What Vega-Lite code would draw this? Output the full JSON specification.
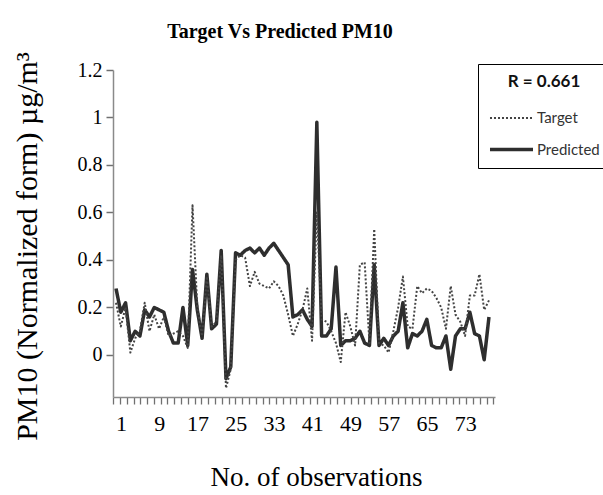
{
  "$schema": "https://vega.github.io/schema/vega-lite/v6.json",
  "width": 382,
  "height": 327,
  "autosize": {"type": "none"},
  "padding": {"left": 113, "top": 70, "right": 108, "bottom": 98},
  "background": "white",
  "title": {"text": "Target Vs Predicted PM10", "font": "Liberation Serif", "fontSize": 20, "fontWeight": "bold", "color": "#000000", "anchor": "middle", "dx": -24, "offset": 10},
  "data": {"values": [
    {"obs":1,"Target":0.22,"Predicted":0.28},{"obs":2,"Target":0.12,"Predicted":0.18},{"obs":3,"Target":0.20,"Predicted":0.22},{"obs":4,"Target":0.01,"Predicted":0.06},{"obs":5,"Target":0.07,"Predicted":0.10},
    {"obs":6,"Target":0.10,"Predicted":0.08},{"obs":7,"Target":0.22,"Predicted":0.19},{"obs":8,"Target":0.10,"Predicted":0.16},{"obs":9,"Target":0.17,"Predicted":0.20},{"obs":10,"Target":0.11,"Predicted":0.19},
    {"obs":11,"Target":0.16,"Predicted":0.18},{"obs":12,"Target":0.08,"Predicted":0.10},{"obs":13,"Target":0.09,"Predicted":0.05},{"obs":14,"Target":0.10,"Predicted":0.05},{"obs":15,"Target":0.08,"Predicted":0.20},
    {"obs":16,"Target":0.03,"Predicted":0.04},{"obs":17,"Target":0.63,"Predicted":0.36},{"obs":18,"Target":0.20,"Predicted":0.19},{"obs":19,"Target":0.08,"Predicted":0.07},{"obs":20,"Target":0.33,"Predicted":0.34},
    {"obs":21,"Target":0.12,"Predicted":0.11},{"obs":22,"Target":0.14,"Predicted":0.13},{"obs":23,"Target":0.42,"Predicted":0.44},{"obs":24,"Target":-0.14,"Predicted":-0.10},{"obs":25,"Target":-0.06,"Predicted":-0.05},
    {"obs":26,"Target":0.40,"Predicted":0.43},{"obs":27,"Target":0.42,"Predicted":0.42},{"obs":28,"Target":0.41,"Predicted":0.44},{"obs":29,"Target":0.29,"Predicted":0.45},{"obs":30,"Target":0.35,"Predicted":0.43},
    {"obs":31,"Target":0.30,"Predicted":0.45},{"obs":32,"Target":0.29,"Predicted":0.42},{"obs":33,"Target":0.28,"Predicted":0.45},{"obs":34,"Target":0.31,"Predicted":0.47},{"obs":35,"Target":0.29,"Predicted":0.44},
    {"obs":36,"Target":0.25,"Predicted":0.41},{"obs":37,"Target":0.17,"Predicted":0.38},{"obs":38,"Target":0.08,"Predicted":0.16},{"obs":39,"Target":0.13,"Predicted":0.17},{"obs":40,"Target":0.19,"Predicted":0.19},
    {"obs":41,"Target":0.28,"Predicted":0.15},{"obs":42,"Target":0.06,"Predicted":0.12},{"obs":43,"Target":0.60,"Predicted":0.98},{"obs":44,"Target":0.15,"Predicted":0.08},{"obs":45,"Target":0.14,"Predicted":0.08},
    {"obs":46,"Target":0.10,"Predicted":0.11},{"obs":47,"Target":0.05,"Predicted":0.37},{"obs":48,"Target":-0.03,"Predicted":0.04},{"obs":49,"Target":0.18,"Predicted":0.06},{"obs":50,"Target":0.12,"Predicted":0.06},
    {"obs":51,"Target":0.04,"Predicted":0.07},{"obs":52,"Target":0.38,"Predicted":0.10},{"obs":53,"Target":0.39,"Predicted":0.05},{"obs":54,"Target":0.05,"Predicted":0.04},{"obs":55,"Target":0.53,"Predicted":0.38},
    {"obs":56,"Target":0.05,"Predicted":0.04},{"obs":57,"Target":0.04,"Predicted":0.07},{"obs":58,"Target":0.01,"Predicted":0.04},{"obs":59,"Target":0.10,"Predicted":0.08},{"obs":60,"Target":0.20,"Predicted":0.10},
    {"obs":61,"Target":0.33,"Predicted":0.22},{"obs":62,"Target":0.12,"Predicted":0.03},{"obs":63,"Target":0.11,"Predicted":0.09},{"obs":64,"Target":0.29,"Predicted":0.08},{"obs":65,"Target":0.26,"Predicted":0.10},
    {"obs":66,"Target":0.28,"Predicted":0.15},{"obs":67,"Target":0.27,"Predicted":0.04},{"obs":68,"Target":0.24,"Predicted":0.03},{"obs":69,"Target":0.20,"Predicted":0.03},{"obs":70,"Target":0.11,"Predicted":0.08},
    {"obs":71,"Target":0.29,"Predicted":-0.06},{"obs":72,"Target":0.17,"Predicted":0.08},{"obs":73,"Target":0.14,"Predicted":0.11},{"obs":74,"Target":0.08,"Predicted":0.11},{"obs":75,"Target":0.25,"Predicted":0.18},
    {"obs":76,"Target":0.25,"Predicted":0.09},{"obs":77,"Target":0.34,"Predicted":0.08},{"obs":78,"Target":0.19,"Predicted":-0.02},{"obs":79,"Target":0.23,"Predicted":0.16}
  ]},
  "transform": [{"fold": ["Predicted", "Target"], "as": ["series", "value"]}],
  "mark": {"type": "line", "strokeJoin": "round"},
  "encoding": {
    "x": {"field": "obs", "type": "quantitative", "scale": {"domain": [0.37, 80.26], "nice": false, "zero": false},
      "axis": {"orient": "bottom",
        "values": [1,9,17,25,33,41,49,57,65,73,0.4,1.82,3.24,4.66,6.08,7.5,8.92,10.34,11.76,13.18,14.6,16.02,17.44,18.86,20.28,21.7,23.12,24.54,25.96,27.38,28.8,30.22,31.64,33.06,34.48,35.9,37.32,38.74,40.16,41.58,43,44.42,45.84,47.26,48.68,50.1,51.52,52.94,54.36,55.78,57.2,58.62,60.04,61.46,62.88,64.3,65.72,67.14,68.56,69.98,71.4,72.82,74.24,75.66,77.08,78.5,79.92],
        "labelExpr": "indexof([1,9,17,25,33,41,49,57,65,73], datum.value) >= 0 ? datum.label : ''",
        "tickColor": {"condition": {"test": "indexof([1,9,17,25,33,41,49,57,65,73], datum.value) >= 0", "value": "transparent"}, "value": "#707070"},
        "ticks": true, "tickSize": 7, "tickWidth": 1.3, "grid": false,
        "labelOffset": 5, "labelPadding": 9, "labelFont": "Liberation Serif", "labelFontSize": 22, "labelColor": "#000000", "labelOverlap": false, "labelFlush": false,
        "domainColor": "#8a8a8a", "domainWidth": 1.5,
        "title": "No. of observations", "titleFont": "Liberation Serif", "titleFontSize": 27, "titleFontWeight": "normal", "titleColor": "#000000",
        "titleX": 203, "titleY": 88, "titleAlign": "center", "titleBaseline": "alphabetic"}},
    "y": {"field": "value", "type": "quantitative", "scale": {"domain": [-0.177, 1.2], "nice": false, "zero": false},
      "axis": {"values": [0, 0.2, 0.4, 0.6, 0.8, 1, 1.2], "format": "~f", "grid": false, "ticks": true, "tickSize": 7, "tickColor": "#707070", "tickWidth": 1.5,
        "labelFont": "Liberation Serif", "labelFontSize": 20, "labelColor": "#000000", "labelPadding": 4,
        "domainColor": "#8a8a8a", "domainWidth": 1.5,
        "title": "PM10 (Normalized form) µg/m³", "titleFont": "Liberation Serif", "titleFontSize": 30, "titleFontWeight": "normal", "titleColor": "#000000",
        "titleAngle": 270, "titleX": -86, "titleY": 176, "titleAlign": "center", "titleBaseline": "middle"}},
    "color": {"field": "series", "type": "nominal", "scale": {"domain": ["Target", "Predicted"], "range": ["#444444", "#2e2e2e"]},
      "legend": {"title": "R = 0.661", "orient": "none", "legendX": 365, "legendY": -6}},
    "strokeDash": {"field": "series", "type": "nominal", "scale": {"domain": ["Target", "Predicted"], "range": [[2, 2], [1, 0]]},
      "legend": {"title": "R = 0.661", "orient": "none", "legendX": 365, "legendY": -6}},
    "strokeWidth": {"field": "series", "type": "nominal", "scale": {"domain": ["Target", "Predicted"], "range": [2, 3.5]},
      "legend": {"title": "R = 0.661", "orient": "none", "legendX": 365, "legendY": -6}}
  },
  "config": {
    "view": {"stroke": null},
    "axis": {"ticks": true},
    "legend": {"titleFont": "Lato", "titleFontSize": 17, "titleFontWeight": "bold", "titleColor": "#111111", "titleAnchor": "middle", "titlePadding": 4,
      "labelFont": "Lato", "labelFontSize": 15, "labelColor": "#333333", "labelOffset": 2,
      "symbolType": "stroke", "symbolSize": 1850, "strokeColor": "#000000", "fillColor": "#ffffff", "padding": 10, "rowPadding": 0, "cornerRadius": 0}
  }
}
